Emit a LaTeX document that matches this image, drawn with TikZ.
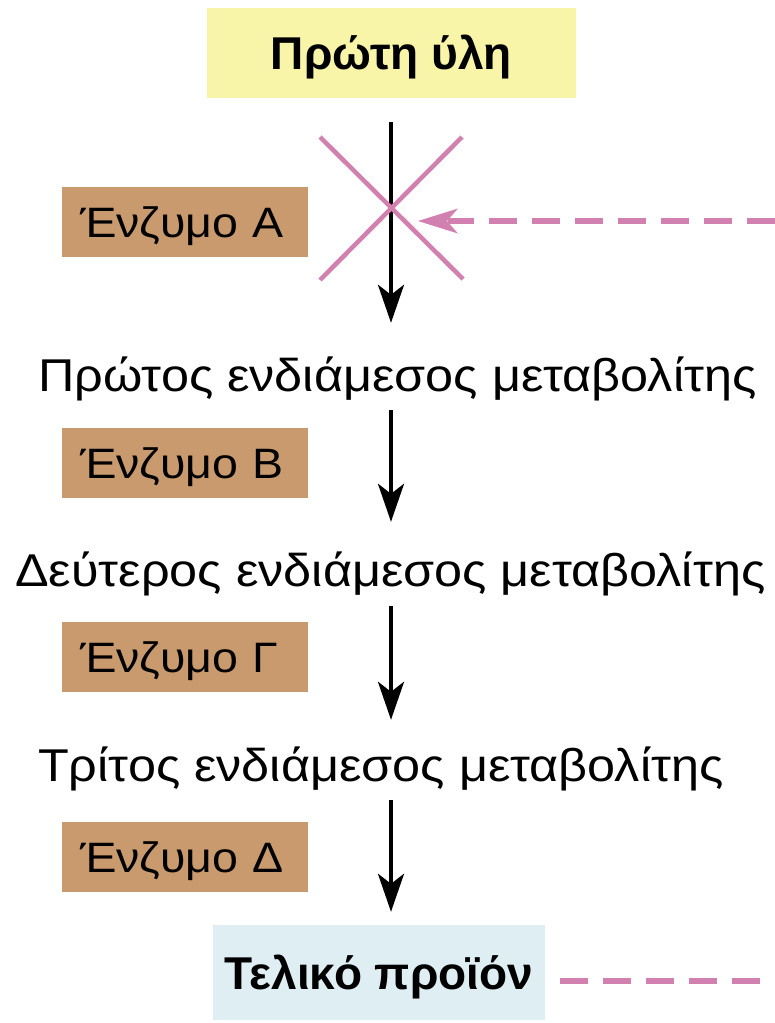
\documentclass[tikz,border=0pt]{standalone}
\usepackage{fontspec}
\setmainfont{Liberation Sans}
\newfontfamily\widefont[FakeStretch=1.095]{Liberation Sans}
\usetikzlibrary{arrows.meta,calc}
\definecolor{rawyellow}{RGB}{248,244,168}
\definecolor{enzbrown}{RGB}{200,154,110}
\definecolor{prodblue}{RGB}{222,238,243}
\definecolor{inhpink}{RGB}{210,128,176}
\begin{document}
\begin{tikzpicture}[x=1pt,y=-1pt,
  endbox/.style={inner sep=0pt, text height=33pt, text depth=0pt,
    font=\fontsize{46}{54}\selectfont\bfseries},
  enzbox/.style={fill=enzbrown, minimum width=246pt, minimum height=70pt, inner ysep=0pt,
    inner xsep=18pt, text width=210pt, align=left, text height=31pt, text depth=0pt,
    font=\widefont\fontsize{42.5}{50}\selectfont},
  metab/.style={inner sep=0pt, anchor=base west, text height=34pt, text depth=10pt,
    font=\widefont\fontsize{46}{54}\selectfont},
  flow/.style={line width=4pt, -{Stealth[length=38pt,width=26pt,inset=10pt]}},
  inhib/.style={draw=inhpink, line width=4.5pt},
  fb/.style={draw=inhpink, line width=6pt, dash pattern=on 28pt off 15pt}
]
\useasboundingbox (0,0) rectangle (775,1023);
% end boxes
\node[endbox, fill=rawyellow, minimum width=369pt, minimum height=90pt] (raw) at (391.5,53) {Πρώτη ύλη};
\node[endbox, fill=prodblue, minimum width=332pt, minimum height=95pt] (prod) at (379,972.5) {Τελικό προϊόν};
% enzymes
\node[enzbox] (enzA) at (185,222) {Ένζυμο Α};
\node[enzbox] (enzB) at (185,462.5) {Ένζυμο Β};
\node[enzbox] (enzC) at (185,656.5) {Ένζυμο Γ};
\node[enzbox] (enzD) at (185,856.5) {Ένζυμο Δ};
% metabolites
\node[metab] (m1) at (38,391) {Πρώτος ενδιάμεσος μεταβολίτης};
\node[metab] (m2) at (15,586) {Δεύτερος ενδιάμεσος μεταβολίτης};
\node[metab] (m3) at (38,781) {Τρίτος ενδιάμεσος μεταβολίτης};
% flow arrows
\coordinate (col) at (391,0);
\draw[flow, shorten <=24pt, shorten >=34pt] (col |- raw.south) -- (col |- m1.north);
\draw[flow, shorten <=9pt, shorten >=30pt] (col |- m1.south) -- (col |- m2.north);
\draw[flow, shorten <=10pt, shorten >=27pt] (col |- m2.south) -- (col |- m3.north);
\draw[flow, shorten <=9pt, shorten >=13pt] (col |- m3.south) -- (col |- prod.north);
% inhibition cross
\coordinate (block) at (391,208);
\draw[inhib] ($(block)+(-71,-71)$) -- ($(block)+(72,71)$);
\draw[inhib] ($(block)+(71,-71)$) -- ($(block)+(-71,72)$);
% feedback
\coordinate (fbin) at (775,221);
\coordinate (fbtip) at (418,221);
\coordinate (fbout) at (775,981);
\draw[fb] (fbin) -- ($(fbtip)+(30,0)$);
\fill[inhpink] (fbtip) -- ++(40,-12.5) -- ++(-11,12.5) -- ++(11,12.5) -- cycle;
\draw[fb] ($(prod.east |- fbout)+(15,0)$) -- (fbout);
\end{tikzpicture}
\end{document}
